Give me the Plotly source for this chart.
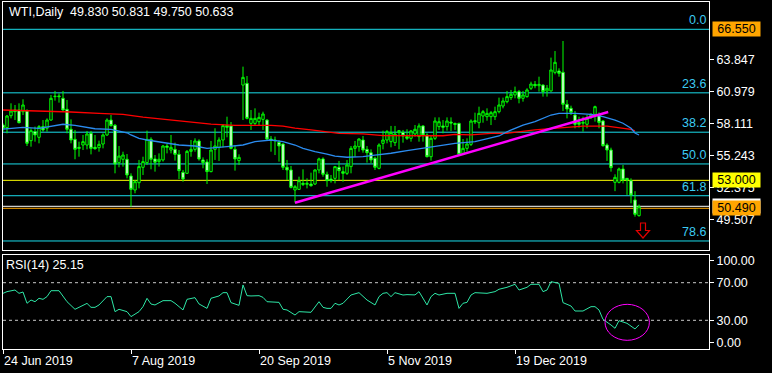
import plotly.graph_objects as go

# ---------------- data ----------------
opens = [57.96,57.73,58.80,59.31,59.31,59.16,59.22,56.56,57.37,56.86,57.82,57.67,58.41,60.51,60.57,60.36,59.37,57.58,56.68,55.96,
         56.17,56.17,57.22,55.96,55.93,56.26,57.07,58.41,57.94,54.59,54.89,54.89,53.39,52.13,52.79,54.17,54.59,56.68,54.92,54.68,
         54.83,56.08,55.72,55.78,55.33,53.72,53.63,55.60,55.78,56.53,54.83,54.65,53.78,55.78,55.96,56.62,57.91,57.88,55.78,54.77,
         61.55,61.70,58.11,58.11,58.26,58.47,58.41,56.71,56.62,56.41,56.26,54.17,53.93,52.13,52.19,52.73,52.64,52.67,52.67,53.93,
         54.92,53.54,53.12,53.18,54.17,53.78,53.63,54.23,55.87,56.02,56.62,55.78,55.48,54.98,54.08,56.32,56.62,56.47,56.38,57.28,
         57.31,56.92,56.77,57.16,56.92,57.88,57.07,55.12,56.77,57.82,57.88,57.82,58.23,58.11,58.11,55.42,55.87,56.23,58.35,58.17,
         58.77,58.71,58.71,58.71,59.16,59.67,60.06,60.42,60.66,60.96,60.36,60.51,61.26,61.61,61.49,61.55,61.02,61.02,62.69,62.81,
         62.69,59.82,59.46,58.86,58.20,58.12,58.03,58.71,58.92,58.86,58.33,56.17,55.72,52.82,52.82,54.02,53.18,52.97,51.24,49.83]
highs = [58.11,58.86,59.91,59.76,59.91,60.27,59.37,57.67,57.82,57.96,58.41,58.56,60.66,61.02,60.80,61.02,60.21,58.47,57.52,56.47,
         57.07,57.43,57.43,57.07,56.56,57.22,58.56,58.86,58.05,56.08,55.57,55.36,53.63,53.03,54.83,55.12,57.46,56.86,55.27,55.42,
         56.17,56.26,57.07,56.38,55.72,53.93,55.72,56.62,56.77,56.68,55.06,54.89,56.53,57.67,56.86,58.05,58.71,58.23,56.17,55.33,
         63.20,62.36,59.31,59.46,59.07,59.16,58.47,56.98,56.92,56.62,56.32,54.83,54.29,52.58,53.33,53.99,53.18,53.69,53.99,55.03,
         55.06,53.78,53.48,54.29,54.74,54.23,54.83,56.08,56.53,56.77,56.98,56.08,55.78,55.12,56.32,57.46,57.52,57.88,57.88,57.52,
         57.52,57.58,57.52,57.96,58.11,57.96,57.22,57.07,58.65,58.65,58.41,58.65,58.65,58.17,58.17,56.71,56.77,58.47,59.07,59.61,
         59.31,59.46,59.22,59.61,60.42,60.42,61.02,61.11,61.41,61.11,61.02,61.26,61.85,61.91,62.30,61.61,61.55,64.01,64.60,63.05,
         65.50,60.21,59.70,59.22,58.71,58.71,58.86,59.01,59.70,59.10,58.41,56.32,55.93,53.54,54.14,54.38,53.18,53.18,52.03,50.831]
lows = [57.37,57.22,58.56,58.41,58.11,58.86,56.08,56.02,56.47,56.32,57.37,57.37,58.35,60.15,59.97,59.25,57.22,56.32,54.89,55.12,
        55.72,55.78,55.33,55.75,55.57,55.87,56.98,57.82,53.63,54.17,54.23,53.18,50.64,51.84,52.28,53.48,54.38,53.99,53.78,54.23,
        54.68,55.42,55.42,54.77,53.12,52.88,53.57,55.12,55.57,54.77,54.08,52.67,53.72,54.83,54.74,55.96,56.86,55.78,53.87,54.38,
        58.41,58.47,57.52,57.96,57.96,57.52,56.62,55.57,55.27,54.68,53.93,53.03,52.28,51.00,52.13,52.49,52.28,52.43,52.58,53.63,
        53.33,52.43,52.79,52.73,53.03,52.88,53.48,53.63,55.12,55.57,55.48,54.59,54.53,53.93,53.99,55.78,56.32,55.96,56.08,55.78,
        56.38,56.62,56.47,56.92,56.47,56.47,55.06,54.77,56.62,57.52,57.22,57.46,57.43,57.52,55.27,55.27,55.57,56.08,58.05,57.67,
        58.17,58.35,57.96,58.41,59.01,59.46,59.91,60.21,60.36,59.91,60.06,60.42,61.11,61.26,60.96,60.51,60.51,60.96,62.51,62.30,
        59.22,58.56,58.86,57.67,57.73,57.37,57.67,58.50,58.27,57.67,56.02,54.74,53.78,52.03,52.73,52.73,51.69,50.94,49.74,49.75]
closes = [57.67,58.77,59.22,59.16,58.17,59.76,56.32,57.46,57.07,57.82,57.52,58.41,60.36,60.54,60.51,59.31,57.58,56.62,55.78,55.87,
          56.47,57.16,55.87,55.84,56.23,57.07,58.41,57.91,54.47,55.18,55.27,53.48,52.19,52.88,54.23,54.68,56.68,54.89,54.62,54.89,
          56.08,55.96,55.96,55.33,53.87,53.12,55.60,55.78,56.53,54.92,54.59,53.78,55.72,56.08,56.62,57.91,57.76,55.87,54.92,55.06,
          62.24,58.56,58.56,58.56,58.65,58.95,56.71,56.62,56.56,56.08,54.17,53.93,52.37,52.43,52.97,52.64,52.73,52.52,53.93,54.92,
          53.54,52.97,52.97,54.23,53.87,53.63,54.38,55.87,56.08,56.71,55.72,55.48,54.83,54.17,56.17,56.62,57.37,57.28,57.16,57.46,
          56.98,56.77,57.43,57.58,57.88,57.07,55.12,56.77,58.32,58.26,57.76,58.32,58.14,58.02,55.33,55.87,56.26,58.32,58.26,59.01,
          59.16,59.01,59.07,59.16,59.76,60.12,60.51,60.72,60.96,60.36,60.66,61.11,61.64,61.49,61.61,60.96,61.26,62.90,63.59,62.60,
          59.82,59.40,59.10,58.03,58.03,58.20,58.56,58.92,59.61,58.20,56.11,55.72,54.14,53.27,54.02,53.03,53.03,51.69,49.95,50.633]
bars = list(range(len(closes)))

ma_red_idx = [0,10,17,24,30,35,40,45,52,58,67,70,73,77,81,84,90,95,110,113,117,122,126,129,133,136,140,145,151,153,155,157,158]
ma_red_val = [59.31,59.22,59.13,59.01,58.92,58.68,58.50,58.30,58.05,57.94,57.94,57.87,57.69,57.52,57.36,57.22,57.16,57.02,57.00,
              57.13,57.07,57.22,57.22,57.36,57.52,57.61,57.72,57.87,57.87,57.76,57.67,57.58,57.45]
ma_blue_idx = [0,5,9,12,15,18,21,23,27,29,31,32,34,36,39,42,44,48,51,56,60,63,67,70,73,75,78,81,83,86,90,93,97,101,105,108,
               113,118,120,122,124,126,128,130,133,135,137,139,143,147,150,153,155,157,158,159]
ma_blue_val = [57.60,57.76,57.67,57.87,58.03,57.94,57.76,57.63,57.58,57.45,57.27,57.07,56.77,56.62,56.47,56.32,56.17,56.08,55.87,
               56.02,56.17,56.47,56.62,56.47,56.17,55.87,55.57,55.36,55.18,55.07,55.12,55.27,55.43,55.66,55.87,56.02,56.32,56.47,
               56.62,56.77,56.98,57.36,57.67,57.96,58.26,58.57,58.86,59.01,59.01,58.92,58.71,58.41,58.12,57.67,57.25,57.07]

trend_idx = [73, 151.3]
trend_val = [50.99, 59.13]

fib_labels = ["0.0", "23.6", "38.2", "50.0", "61.8", "78.6"]
fib_levels = [66.55, 60.85, 57.32, 54.47, 51.62, 47.56]

price_ticks = [63.847, 60.979, 58.111, 55.243, 52.375, 49.507]

rsi_idx = [0,1,3,4,5,6,7,8,9,10,11,12,14,16,18,19,21,22,23,24,26,27,28,29,31,32,34,35,36,37,38,40,42,43,45,46,48,49,51,52,
           54,55,56,57,59,60,61,62,64,65,66,69,70,71,73,74,76,77,79,80,81,82,83,84,85,87,89,90,91,93,94,95,96,97,98,100,101,
           103,104,106,107,108,109,111,113,114,115,116,117,118,120,121,123,124,126,128,129,131,132,134,135,136,137,139,140,
           142,143,145,147,148,149,150,152,153,154,155,156,158,159]
rsi_val = [58.7,60.5,62.2,58.7,60.1,48.1,51.6,49.8,53.4,52.3,55.2,61.5,61.5,49.8,41.7,43.8,48.0,43.8,43.8,46.3,55.2,55.2,39.2,
           41.7,39.2,33.9,39.2,44.5,53.4,47.3,46.3,50.9,50.9,48.1,41.0,52.3,54.1,47.4,42.7,53.4,55.9,59.4,59.4,48.8,45.9,67.6,
           56.2,55.9,56.2,54.4,49.8,49.1,41.7,41.0,35.6,39.2,38.5,38.5,49.8,43.8,42.7,42.7,48.1,46.3,48.1,56.9,59.4,55.9,51.6,
           46.3,55.2,58.7,59.4,55.2,59.4,56.9,57.3,57.0,60.5,46.3,55.2,58.7,56.9,58.7,58.7,42.7,48.1,49.1,56.9,59.4,59.4,58.7,
           60.5,63.0,65.1,68.3,62.2,65.1,68.3,68.3,60.5,62.2,71.1,69.3,48.8,45.2,39.9,39.9,44.5,44.5,41.0,31.0,25.0,21.5,29.6,
           28.6,26.8,20.8,25.15]

date_idx = [0, 32, 64, 96, 128]
date_labels = ["24 Jun 2019", "7 Aug 2019", "20 Sep 2019", "5 Nov 2019", "19 Dec 2019"]

rsi_tick_vals = [93.8, 70, 30, 6.6]
rsi_tick_text = ["100.00", "70.00", "30.00", "0.00"]

# ---------------- figure ----------------
FONT = "Liberation Sans"
FS = 12.5
W, H = 772, 373
ML, MR, MT, MB = 3, 63, 2, 24
PW = W - ML - MR
PH = H - MT - MB

def px_x(px):
    return (px - ML) / PW

def px_y(py):
    return (H - MB - py) / PH

fig = go.Figure()

fig.add_trace(go.Candlestick(
    x=bars, open=opens, high=highs, low=lows, close=closes,
    increasing=dict(line=dict(color="#00FF00", width=1), fillcolor="#000000"),
    decreasing=dict(line=dict(color="#00FF00", width=1), fillcolor="#FFFFFF"),
    whiskerwidth=0, xaxis="x", yaxis="y", hoverinfo="skip", showlegend=False))

fig.add_trace(go.Scatter(x=ma_red_idx, y=ma_red_val, mode="lines", line=dict(color="#FF0000", width=1.3),
                         xaxis="x", yaxis="y", hoverinfo="skip", showlegend=False))
fig.add_trace(go.Scatter(x=ma_blue_idx, y=ma_blue_val, mode="lines", line=dict(color="#2B8CF0", width=1.3),
                         xaxis="x", yaxis="y", hoverinfo="skip", showlegend=False))
fig.add_trace(go.Scatter(x=trend_idx, y=trend_val, mode="lines", line=dict(color="#FF00FF", width=2.5),
                         xaxis="x", yaxis="y", hoverinfo="skip", showlegend=False))

fig.add_trace(go.Scatter(x=rsi_idx, y=rsi_val, mode="lines", line=dict(color="#2EE6A6", width=1),
                         xaxis="x2", yaxis="y2", hoverinfo="skip", showlegend=False))

shapes = []
for lv in fib_levels:
    shapes.append(dict(type="line", xref="paper", x0=0, x1=1, yref="y", y0=lv, y1=lv,
                       line=dict(color="#1ADCEA", width=1), layer="below"))
shapes.append(dict(type="line", xref="paper", x0=0, x1=1, yref="y", y0=53.0, y1=53.0,
                   line=dict(color="#FFFF00", width=1), layer="below"))
shapes.append(dict(type="line", xref="paper", x0=0, x1=1, yref="y", y0=50.67, y1=50.67,
                   line=dict(color="#FFFFFF", width=1), layer="below"))
shapes.append(dict(type="line", xref="paper", x0=0, x1=1, yref="y", y0=50.49, y1=50.49,
                   line=dict(color="#FFA500", width=1), layer="below"))
for lv in [70, 30]:
    shapes.append(dict(type="line", xref="paper", x0=0, x1=1, yref="y2", y0=lv, y1=lv,
                       line=dict(color="#C8C8C8", width=1, dash="3px,3px"), layer="below"))
shapes.append(dict(type="circle", xref="x2", yref="y2", x0=150.5, x1=161.6, y0=8.7, y1=47.0,
                   line=dict(color="#FF00FF", width=1)))
# sell arrow
shapes.append(dict(type="path", xref="x", yref="y", xsizemode="pixel", ysizemode="pixel",
                   xanchor=160, yanchor=48.5,
                   path="M -2.5,7.5 L 2.5,7.5 L 2.5,0 L 6.5,0 L 0,-7.5 L -6.5,0 L -2.5,0 Z",
                   line=dict(color="#E00000", width=1.2), fillcolor="rgba(0,0,0,0)", layer="above"))

ann = []
ann.append(dict(text="WTI,Daily\u00a0\u00a049.830 50.831 49.750 50.633", xref="paper", yref="paper",
                x=px_x(7), y=px_y(12), xanchor="left", yanchor="middle", showarrow=False,
                font=dict(family=FONT, size=FS, color="white")))
ann.append(dict(text="RSI(14) 25.15", xref="paper", yref="paper",
                x=px_x(4), y=px_y(265), xanchor="left", yanchor="middle", showarrow=False,
                font=dict(family=FONT, size=FS, color="white")))
for lab, lv in zip(fib_labels, fib_levels):
    ann.append(dict(text=lab, xref="paper", yref="y", x=px_x(708), y=lv, xanchor="right", yanchor="bottom",
                    showarrow=False, yshift=0, font=dict(family=FONT, size=FS, color="#3CCBF2")))

def price_box(txt, lv, bg):
    return dict(text=txt, xref="paper", yref="y", x=px_x(712), y=lv, xanchor="left", yanchor="middle",
                showarrow=False, width=47, height=14, borderpad=0, bgcolor=bg,
                font=dict(family=FONT, size=FS, color="black"))

ann.append(price_box("66.550", 66.55, "#FFA500"))
ann.append(price_box("53.000", 53.0, "#FFFF00"))
ann.append(price_box(" ", 50.67, "#FFFFFF"))
ann.append(price_box("50.490", 50.49, "#FFA500"))

axis_common = dict(showgrid=False, zeroline=False, showline=True, mirror=True, linecolor="white", linewidth=1)

fig.update_layout(
    width=W, height=H, margin=dict(l=ML, r=MR, t=MT, b=MB),
    paper_bgcolor="black", plot_bgcolor="black", showlegend=False,
    xaxis=dict(domain=[0, 1], anchor="y", range=[0, 176.5], showticklabels=False, ticks="",
               rangeslider=dict(visible=False), **axis_common),
    yaxis=dict(domain=[px_y(250), 1], anchor="x", range=[46.75, 69.0], side="right",
               tickvals=price_ticks, ticktext=[f"{v:.3f}" for v in price_ticks],
               ticks="outside", ticklen=4, tickcolor="white",
               tickfont=dict(family=FONT, size=FS, color="white"), **axis_common),
    xaxis2=dict(domain=[0, 1], anchor="y2", range=[0, 176.5], matches="x",
                tickvals=date_idx, ticktext=date_labels, ticks="outside", ticklen=4, tickcolor="white",
                ticklabelposition="outside right",
                tickfont=dict(family=FONT, size=FS, color="white"), **axis_common),
    yaxis2=dict(domain=[0, px_y(254.5)], anchor="x2", range=[-0.53, 100], side="right",
                tickvals=rsi_tick_vals, ticktext=rsi_tick_text, ticks="outside", ticklen=4, tickcolor="white",
                tickfont=dict(family=FONT, size=FS, color="white"), **axis_common),
    shapes=shapes, annotations=ann,
    boxgap=0.15,
)

fig.write_html("out.html", config={"displayModeBar": False, "staticPlot": True},
               post_script="document.body.style.margin='0';document.body.style.padding='0';"
                           "document.documentElement.style.background='black';document.body.style.background='black';")
